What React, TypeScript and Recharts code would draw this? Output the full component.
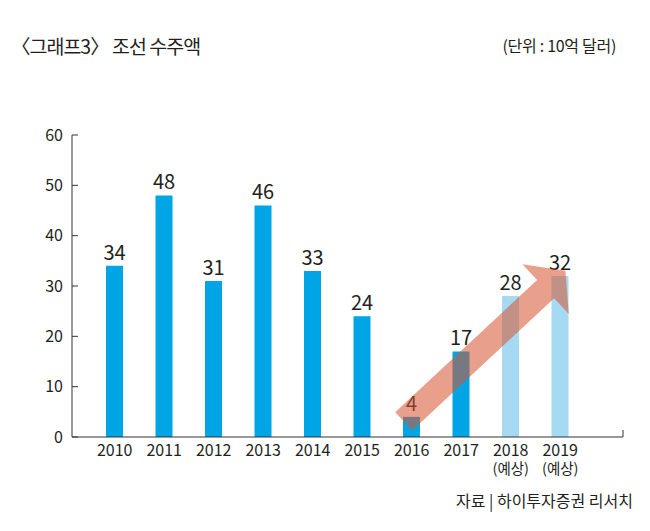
import React from "react";
import { BarChart, Bar, XAxis, YAxis, Cell, LabelList, ReferenceLine } from "recharts";

const years = ["2010", "2011", "2012", "2013", "2014", "2015", "2016", "2017", "2018", "2019"];
const orders = [34, 48, 31, 46, 33, 24, 4, 17, 28, 32];
const forecastYears = ["2018", "2019"];
const forecastNote = "(예상)";
const yTicks = [0, 10, 20, 30, 40, 50, 60];

// trend arrow drawn from 2016 up to 2019, in data units
const arrowFrom = { year: "2016", value: 4.6 };
const arrowTo = { year: "2019", value: 32.1 };

const FONT = '"Noto Sans CJK KR", "Noto Sans", sans-serif';
const INK = "#231f20";
const AXIS = "#333";
const BLUE = "#00a5e6";
const LIGHT_BLUE = "#a6daf3";

const data = years.map((year, i) => ({ year, value: orders[i] }));

function YearTick({ x, y, payload }: any) {
  const isForecast = forecastYears.includes(payload.value);
  return (
    <g>
      <text x={x} y={y + 11} textAnchor="middle" fill={INK} fontSize={16}>
        {payload.value}
      </text>
      {isForecast && (
        <text x={x} y={y + 29} textAnchor="middle" fill={INK} fontSize={14.5}>
          {forecastNote}
        </text>
      )}
    </g>
  );
}

// x axis baseline with the small upturned tick at its right end
function BaseLine({ x1, y1, x2 }: any) {
  return <path d={`M${x1},${y1}H${x2}V${y1 - 7}`} fill="none" stroke={AXIS} strokeWidth={1} />;
}

function TrendArrow({ x1, y1, x2, y2 }: any) {
  const dx = x2 - x1;
  const dy = y2 - y1;
  const len = Math.hypot(dx, dy);
  const ux = dx / len;
  const uy = dy / len;
  const nx = -uy;
  const ny = ux;
  // stretch a little past both ends
  const tx = x1 - ux * 11;
  const ty = y1 - uy * 11;
  const px = x2 + ux * 7;
  const py = y2 + uy * 7;
  const shaft = 12.5;
  const head = 34;
  const headLen = 27;
  const bx = px - ux * headLen;
  const by = py - uy * headLen;
  const pts = [
    [tx + nx * shaft, ty + ny * shaft],
    [bx + nx * shaft, by + ny * shaft],
    [bx + nx * head, by + ny * head],
    [px, py],
    [bx - nx * head, by - ny * head],
    [bx - nx * shaft, by - ny * shaft],
    [tx - nx * shaft, ty - ny * shaft],
  ];
  return (
    <polygon
      points={pts.map((p) => p.join(",")).join(" ")}
      fill="#d65532"
      fillOpacity={0.56}
      stroke="none"
    />
  );
}

export default function App() {
  return (
    <div
      style={{
        position: "absolute",
        left: 0,
        top: 0,
        width: 650,
        height: 531,
        background: "#fff",
        fontFamily: FONT,
        color: INK,
      }}
    >
      <div
        style={{
          position: "absolute",
          left: 11,
          top: 32,
          fontSize: 19.5,
          lineHeight: "28px",
          letterSpacing: -1,
        }}
      >
        〈그래프3〉 조선 수주액
      </div>
      <div style={{ position: "absolute", right: 34, top: 33, fontSize: 16, lineHeight: "24px", letterSpacing: -0.3 }}>
        (단위 : 10억 달러)
      </div>
      <BarChart
        width={650}
        height={531}
        data={data}
        margin={{ top: 135, right: 27, bottom: 64, left: 12 }}
      >
        <XAxis
          dataKey="year"
          interval={0}
          tickLine={false}
          axisLine={false}
          padding={{ left: 18, right: 38 }}
          tick={<YearTick />}
        />
        <YAxis
          width={60}
          domain={[0, 60]}
          ticks={yTicks}
          interval={0}
          axisLine={{ stroke: AXIS }}
          tickLine={{ stroke: AXIS }}
          tickSize={-6}
          tickMargin={15}
          tick={{ fill: INK, fontSize: 16 }}
        />
        <Bar dataKey="value" barSize={17} isAnimationActive={false}>
          {data.map((d) => (
            <Cell key={d.year} fill={forecastYears.includes(d.year) ? LIGHT_BLUE : BLUE} />
          ))}
          <LabelList dataKey="value" position="top" offset={6} fill={INK} fontSize={20} />
        </Bar>
        <ReferenceLine y={0} ifOverflow="visible" shape={<BaseLine />} />
        <ReferenceLine
          segment={[
            { x: arrowFrom.year, y: arrowFrom.value },
            { x: arrowTo.year, y: arrowTo.value },
          ]}
          ifOverflow="visible"
          zIndex={2500}
          shape={<TrendArrow />}
        />
      </BarChart>
      <div style={{ position: "absolute", right: 17, top: 488, fontSize: 16, lineHeight: "24px" }}>
        자료 | 하이투자증권 리서치
      </div>
    </div>
  );
}
